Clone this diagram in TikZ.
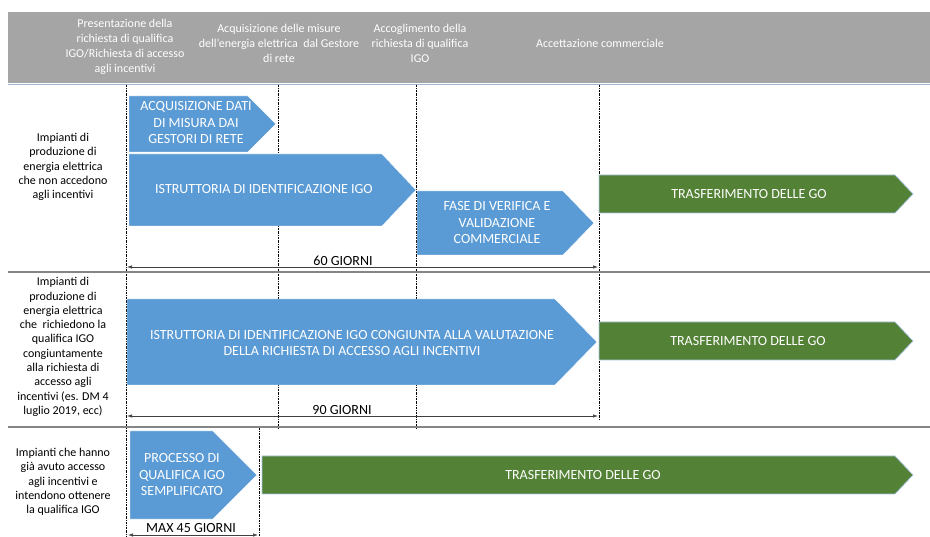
\documentclass[tikz,border=0pt]{standalone}
\usepackage{fontspec}
\setmainfont{Carlito}
\usetikzlibrary{arrows.meta}
\definecolor{hdrgray}{HTML}{A5A5A5}
\definecolor{faseblue}{HTML}{5B9BD5}
\definecolor{gogreen}{HTML}{538135}
\definecolor{rimblue}{HTML}{A9C4E4}
\definecolor{sepgray}{HTML}{858585}

\begin{document}
\begin{tikzpicture}[x=1pt,y=-1pt,
  hdr/.style={text=white,font=\fontsize{12}{15}\selectfont,align=center,inner sep=0pt},
  lbl/.style={font=\fontsize{12}{14.3}\selectfont,align=center,inner sep=0pt},
  boxtxt/.style={text=white,font=\fontsize{14}{16.5}\selectfont,align=center,inner sep=0pt},
  daystxt/.style={font=\fontsize{14}{16}\selectfont,inner sep=0pt},
  fase/.style={fill=faseblue,draw=white,line width=0.4pt},
  gofase/.style={fill=gogreen,draw=rimblue,line width=0.7pt},
  vline/.style={line width=0.5pt,dash pattern=on 2pt off 1pt on 0.6pt off 1pt},
  sep/.style={sepgray,line width=1.6pt},
  dim/.style={{Latex[length=5pt,width=3.5pt]}-{Latex[length=5pt,width=3.5pt]},line width=0.7pt,black!75}]
\useasboundingbox (0,0) rectangle (930,537);

% header
\fill[hdrgray] (8,12) rectangle (930,83);
\draw[rimblue!80!gray,line width=1.2pt] (8,84.5) -- (930,84.5);
\node[hdr] (h1) at (125,47) {Presentazione della\\richiesta di qualifica\\IGO/Richiesta di accesso\\agli incentivi};
\node[hdr] (h2) at (279,43) {Acquisizione delle misure\\dell'energia elettrica\ \ dal Gestore\\di rete};
\node[hdr] (h3) at (420,43) {Accoglimento della\\richiesta di qualifica\\IGO};
\node[hdr] (h4) at (600,43) {Accettazione commerciale};

% time lines
\draw[vline] (126,85) -- (126,537);
\draw[vline] (278,85) -- (278,429);
\draw[vline] (416,85) -- (416,429);
\draw[vline] (599,85) -- (599,420);
\draw[vline] (259,428) -- (259,537);

% rows
\draw[sep] (8,272) -- (930,272);
\draw[sep] (8,427) -- (930,427);

% row 1
\node[lbl] (r1) at (63,167) {Impianti di\\produzione di\\energia elettrica\\che non accedono\\agli incentivi};
\draw[fase] (129,96) -- (248,96) -- (276,124) -- (248,152) -- (129,152) -- cycle;
\node[boxtxt] (acq) at (196,123) {ACQUISIZIONE DATI\\DI MISURA DAI\\GESTORI DI RETE};
\draw[fase] (129,154) -- (382,154) -- (416,190) -- (382,226) -- (129,226) -- cycle;
\node[boxtxt] (istr) at (264,189) {ISTRUTTORIA DI IDENTIFICAZIONE IGO};
\draw[fase] (417,191) -- (563,191) -- (594,223) -- (563,255) -- (417,255) -- cycle;
\node[boxtxt] (verif) at (497,223) {FASE DI VERIFICA E\\VALIDAZIONE\\COMMERCIALE};
\draw[gofase] (599,175) -- (895,175) -- (913,194) -- (895,213) -- (599,213) -- cycle;
\node[boxtxt] (go1) at (749,194) {TRASFERIMENTO DELLE GO};
\coordinate (d60a) at (127,267);
\coordinate (d60b) at (598,267);
\draw[dim] (d60a) -- (d60b);
\node[daystxt] (g60) at (343,261) {60 GIORNI};

% row 2
\node[lbl] (r2) at (63,347) {Impianti di\\produzione di\\energia elettrica\\che\ \ richiedono la\\qualifica IGO\\congiuntamente\\alla richiesta di\\accesso agli\\incentivi (es. DM 4\\luglio 2019, ecc)};
\draw[fase] (127,299) -- (555,299) -- (597,342) -- (555,385) -- (127,385) -- cycle;
\node[boxtxt] (istrc) at (352,343) {ISTRUTTORIA DI IDENTIFICAZIONE IGO CONGIUNTA ALLA VALUTAZIONE\\DELLA RICHIESTA DI ACCESSO AGLI INCENTIVI};
\draw[gofase] (599,322) -- (895,322) -- (913,341) -- (895,360) -- (599,360) -- cycle;
\node[boxtxt] (go2) at (748,341) {TRASFERIMENTO DELLE GO};
\coordinate (d90a) at (127,416);
\coordinate (d90b) at (598,416);
\draw[dim] (d90a) -- (d90b);
\node[daystxt] (g90) at (342,410) {90 GIORNI};

% row 3
\node[lbl] (r3) at (63,482) {Impianti che hanno\\già avuto accesso\\agli incentivi e\\intendono ottenere\\la qualifica IGO};
\draw[fase] (130,431) -- (213,431) -- (257,475) -- (213,519) -- (130,519) -- cycle;
\node[boxtxt] (sempl) at (182,475) {PROCESSO DI\\QUALIFICA IGO\\SEMPLIFICATO};
\draw[gofase] (262,456) -- (895,456) -- (913,475) -- (895,494) -- (262,494) -- cycle;
\node[boxtxt] (go3) at (583,475) {TRASFERIMENTO DELLE GO};
\coordinate (d45a) at (128,535);
\coordinate (d45b) at (258,535);
\draw[dim] (d45a) -- (d45b);
\node[daystxt] (g45) at (191,528) {MAX 45 GIORNI};
\end{tikzpicture}
\end{document}
